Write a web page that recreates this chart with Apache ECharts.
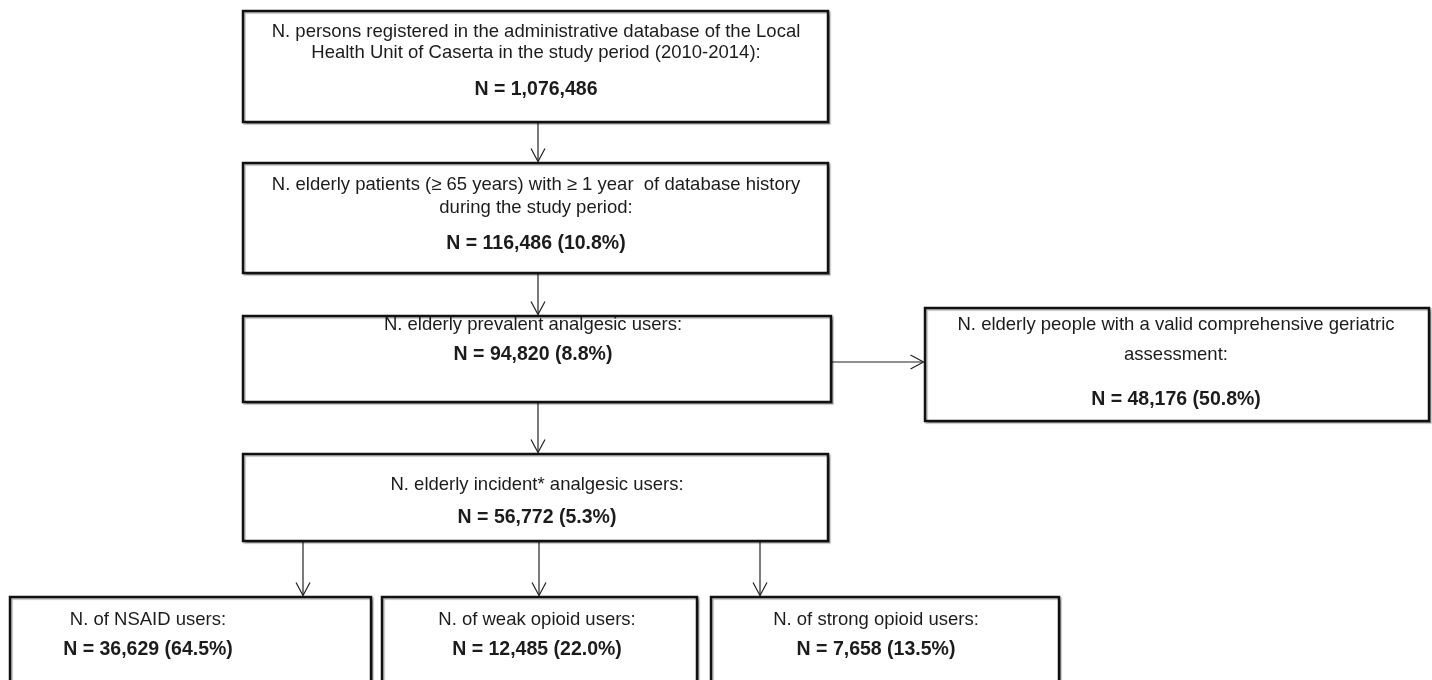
<!DOCTYPE html>
<html>
<head>
<meta charset="utf-8">
<script src="https://cdn.jsdelivr.net/npm/echarts@6/dist/echarts.min.js"></script>
<style>
html,body{margin:0;padding:0;background:#fff;}
#chart{width:1432px;height:680px;}
</style>
</head>
<body>
<div id="chart"></div>
<script>
// ---------------- data ----------------
const boxTitles = [
  ["N. persons registered in the administrative database of the Local", "Health Unit of Caserta in the study period (2010-2014):"],
  ["N. elderly patients (\u2265 65 years) with \u2265 1 year  of database history", "during the study period:"],
  ["N. elderly prevalent analgesic users:"],
  ["N. elderly people with a valid comprehensive geriatric", "assessment:"],
  ["N. elderly incident* analgesic users:"],
  ["N. of NSAID users:"],
  ["N. of weak opioid users:"],
  ["N. of strong opioid users:"]
];
const boxCounts = [1076486, 116486, 94820, 48176, 56772, 36629, 12485, 7658];
const boxPercents = [null, 10.8, 8.8, 50.8, 5.3, 64.5, 22.0, 13.5];
const flowLinks = [[0, 1], [1, 2], [2, 3], [2, 4], [4, 5], [4, 6], [4, 7]];

// ---------------- layout (page pixels) ----------------
const boxRects = [
  [243, 11, 828, 122],
  [243, 163, 828, 273],
  [243, 316, 831, 402],
  [925, 308, 1429, 421],
  [243, 454, 828, 541],
  [10, 597, 371, 700],
  [382, 597, 697, 700],
  [711, 597, 1059, 700]
];
const textCenterX = [536, 536, 533, 1176, 537, 148, 537, 876];
const titleLineY = [[32, 53], [185, 208], [325], [325, 355], [485], [620], [620], [620]];
const countLineY = [90, 244, 355, 400, 518, 650, 650, 650];
const linkAnchor = [538, 538, 362, 538, 303, 539, 760];

const FONT = '"Liberation Sans", Arial, sans-serif';
const TEXT_COLOR = '#1c1c1c';

function countLabel(i) {
  const n = boxCounts[i].toLocaleString('en-US');
  const p = boxPercents[i];
  return p == null ? 'N = ' + n : 'N = ' + n + ' (' + p.toFixed(1) + '%)';
}

function renderBox(params, api) {
  const i = api.value(0);
  const r = boxRects[i];
  const p0 = api.coord([r[0], r[1]]);
  const p1 = api.coord([r[2], r[3]]);
  const cx = api.coord([textCenterX[i], 0])[0];
  const children = [{
    type: 'rect',
    shape: { x: p0[0], y: p0[1], width: p1[0] - p0[0], height: p1[1] - p0[1] },
    style: {
      fill: '#ffffff', stroke: '#111111', lineWidth: 2.5,
      shadowColor: 'rgba(0,0,0,0.28)', shadowOffsetX: 1.5, shadowOffsetY: 1.5, shadowBlur: 1
    }
  }];
  titleLineY[i].forEach(function (ly, k) {
    children.push({
      type: 'text',
      x: cx, y: api.coord([0, ly])[1],
      style: {
        text: boxTitles[i][k], align: 'center', verticalAlign: 'middle',
        fontSize: 18.5, fontFamily: FONT, fontWeight: 'normal', fill: TEXT_COLOR
      }
    });
  });
  children.push({
    type: 'text',
    x: cx, y: api.coord([0, countLineY[i]])[1],
    style: {
      text: countLabel(i), align: 'center', verticalAlign: 'middle',
      fontSize: 19.5, fontFamily: FONT, fontWeight: 'bold', fill: TEXT_COLOR
    }
  });
  return { type: 'group', children: children };
}

function renderLink(params, api) {
  const k = api.value(0);
  const pIdx = flowLinks[k][0], cIdx = flowLinks[k][1];
  const rp = boxRects[pIdx], rc = boxRects[cIdx];
  let s, e;
  if (rc[0] > rp[2]) {
    s = api.coord([rp[2], linkAnchor[k]]);
    e = api.coord([rc[0], linkAnchor[k]]);
  } else {
    s = api.coord([linkAnchor[k], rp[3]]);
    e = api.coord([linkAnchor[k], rc[1]]);
  }
  const dx = e[0] - s[0], dy = e[1] - s[1];
  const len = Math.sqrt(dx * dx + dy * dy);
  const ux = dx / len, uy = dy / len;
  const nx = -uy, ny = ux;
  const L = 13, W = 7;
  const tip = [e[0] - ux * 1.5, e[1] - uy * 1.5];
  return {
    type: 'group',
    children: [
      { type: 'line', shape: { x1: s[0], y1: s[1], x2: tip[0], y2: tip[1] },
        style: { stroke: '#222', lineWidth: 1.2 } },
      { type: 'polyline',
        shape: { points: [
          [tip[0] - ux * L + nx * W, tip[1] - uy * L + ny * W],
          tip,
          [tip[0] - ux * L - nx * W, tip[1] - uy * L - ny * W]
        ] },
        style: { stroke: '#222', lineWidth: 1.2, fill: null } }
    ]
  };
}

const chart = echarts.init(document.getElementById('chart'), null, { renderer: 'canvas' });
chart.setOption({
  animation: false,
  backgroundColor: '#ffffff',
  grid: { left: 0, right: 0, top: 0, bottom: 0 },
  xAxis: { type: 'value', min: 0, max: 1432, show: false },
  yAxis: { type: 'value', min: 0, max: 680, inverse: true, show: false },
  series: [
    {
      type: 'custom', name: 'links', silent: true, clip: false,
      renderItem: renderLink,
      data: flowLinks.map(function (l, k) { return [k]; }),
      encode: { x: -1, y: -1 }
    },
    {
      type: 'custom', name: 'boxes', silent: true, clip: false,
      renderItem: renderBox,
      data: boxCounts.map(function (c, i) { return [i]; }),
      encode: { x: -1, y: -1 }
    }
  ]
});
</script>
</body>
</html>
